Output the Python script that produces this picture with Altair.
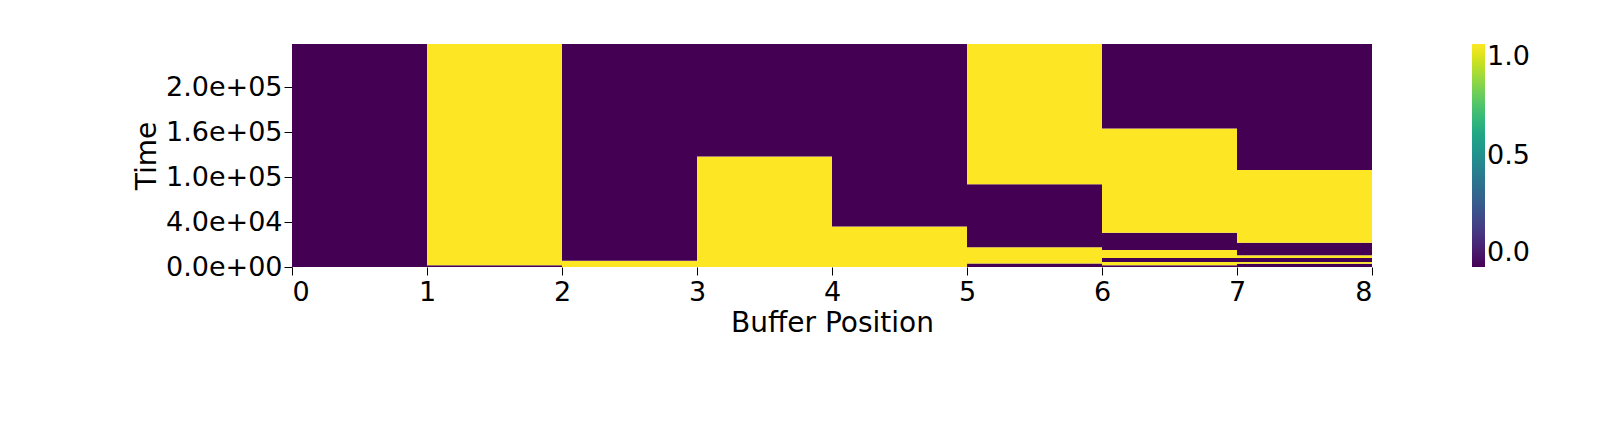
import pandas as pd
import altair as alt

T_MAX = 2.48e5
# per buffer position: segment boundaries (time) and the value of each segment
bounds = {
    0: [0, T_MAX],
    1: [0, 2e3, T_MAX],
    2: [0, 7e3, T_MAX],
    3: [0, 1.23e5, T_MAX],
    4: [0, 4.5e4, T_MAX],
    5: [0, 4e3, 2.2e4, 9.2e4, T_MAX],
    6: [0, 2e3, 5.5e3, 1.0e4, 1.9e4, 3.8e4, 1.54e5, T_MAX],
    7: [0, 3.5e3, 5.5e3, 1.0e4, 1.3e4, 2.7e4, 1.08e5, T_MAX],
}
values = {
    0: [0],
    1: [0, 1],
    2: [1, 0],
    3: [1, 0],
    4: [1, 0],
    5: [0, 1, 0, 1],
    6: [0, 1, 0, 1, 0, 1, 0],
    7: [0, 1, 0, 1, 0, 1, 0],
}

tick_vals = [0, 5e4, 1e5, 1.5e5, 2e5]
tick_labels = ["0.0e+00", "4.0e+04", "1.0e+05", "1.6e+05", "2.0e+05"]

rows = []
for p in bounds:
    b = bounds[p]
    for i, v in enumerate(values[p]):
        rows.append({"x": p, "x2": p + 1, "y": b[i], "y2": b[i + 1], "v": v})
df = pd.DataFrame(rows)

label_expr = " : ".join(
    f"datum.value == {v} ? '{l}'" for v, l in zip(tick_vals, tick_labels)
) + " : ''"

chart = alt.Chart(df).mark_rect().encode(
    x=alt.X("x:Q", title="Buffer Position",
            scale=alt.Scale(domain=[0, 8], nice=False),
            axis=alt.Axis(values=list(range(9)), grid=False, domain=False,
                          tickColor="black", tickSize=8, labelPadding=4)),
    x2="x2",
    y=alt.Y("y:Q", title="Time",
            scale=alt.Scale(domain=[0, T_MAX], nice=False),
            axis=alt.Axis(values=tick_vals, labelExpr=label_expr, grid=False,
                          domain=False, tickColor="black", tickSize=8)),
    y2="y2",
    color=alt.Color("v:Q", title=None,
                    scale=alt.Scale(scheme="viridis", domain=[0, 1]),
                    legend=alt.Legend(values=[0, 0.5, 1], format=".1f",
                                      gradientLength=223, gradientThickness=13,
                                      labelFontSize=27, offset=100,
                                      gradientStrokeWidth=0)),
).properties(
    width=1080, height=223,
    padding={"left": 125, "top": 36, "right": 5, "bottom": 5}
).configure_view(stroke=None).configure_axis(
    labelFontSize=27, titleFontSize=28, labelFont="DejaVu Sans",
    titleFont="DejaVu Sans", titleFontWeight="normal", labelColor="black",
    titleColor="black"
).configure_legend(labelFont="DejaVu Sans", labelColor="black")

chart.save("out.html", embed_options={"renderer": "svg", "actions": False})
